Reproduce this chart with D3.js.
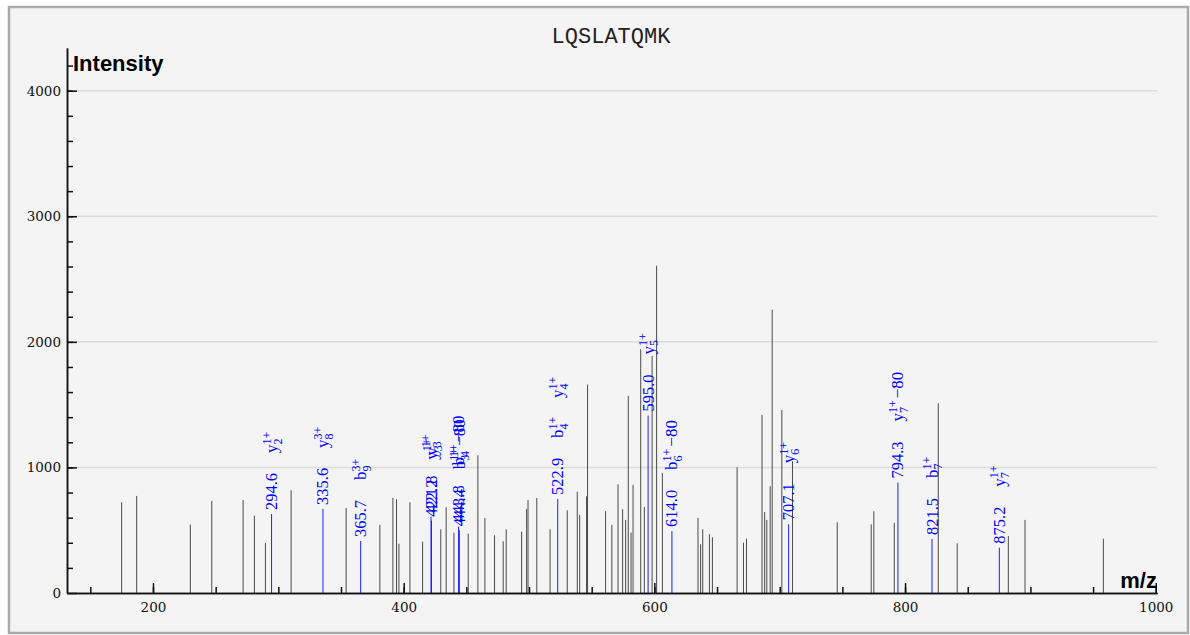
<!DOCTYPE html>
<html>
<head>
<meta charset="utf-8">
<script src="https://cdn.jsdelivr.net/npm/d3@7"></script>
<style>
  body { margin: 0; background: #fff; }
  .tick text { font-family: "DejaVu Serif", serif; font-size: 13.5px; fill: #111; }
  .num { font-family: "Liberation Serif", serif; font-size: 16.5px; fill: #0000ff; }
  .ion { font-family: "Liberation Serif", serif; font-size: 17px; fill: #0000ff; }
  .ionsm { font-family: "Liberation Serif", serif; font-size: 12px; fill: #0000ff; }
</style>
</head>
<body>
<svg id="chart" width="1190" height="635"></svg>
<script>
// spectrum title
var title = "LQSLATQMK";

// unannotated peaks (m/z, intensity)
var peakMz = [175.0, 187.0, 229.8, 246.9, 271.9, 280.9, 289.7, 310.2, 354.1, 381.0,
  391.4, 394.3, 396.2, 405.0, 415.1, 429.6, 433.9, 440.1, 451.5, 459.2,
  464.8, 472.5, 479.4, 481.8, 494.1, 498.1, 499.2, 506.2, 516.8, 530.5,
  538.5, 540.4, 545.9, 546.7, 561.1, 566.1, 571.0, 574.7, 577.1, 579.2,
  581.4, 583.0, 589.1, 592.0, 598.2, 601.8, 606.4, 634.8, 636.9, 638.6,
  643.9, 646.3, 666.0, 671.1, 673.5, 685.9, 688.0, 689.7, 692.4, 694.0,
  701.7, 710.2, 745.9, 773.0, 775.1, 791.4, 826.5, 841.6, 882.4, 895.7, 958.2];
var peakInt = [723, 773, 545, 733, 741, 616, 398, 818, 677, 542,
  757, 746, 393, 723, 409, 507, 683, 481, 472, 1097,
  598, 459, 412, 507, 489, 669, 741, 757, 507, 659,
  807, 622, 770, 1660, 651, 542, 866, 667, 582, 1570,
  481, 861, 1942, 685, 1888, 2606, 956, 598, 388, 507,
  468, 444, 1002, 401, 433, 1418, 645, 582, 850, 2255,
  1458, 1050, 563, 547, 651, 558, 1512, 396, 454, 582, 433];

// annotated peaks
var ionMz = [294.6, 335.6, 365.7, 421.8, 422.2, 443.8, 444.4, 522.9, 595.0, 614.0, 707.1, 794.3, 821.5, 875.2];
var ionInt = [629, 669, 414, 608, 576, 530, 500, 749, 1413, 494, 547, 879, 430, 361];
var ionText = ["294.6", "335.6", "365.7", "421.8", "422.2", "443.8", "444.4", "522.9", "595.0", "614.0", "707.1", "794.3", "821.5", "875.2"];
// ion names: [series, index, charge, loss]
var ionNames = [
  [["y", "2", "1+", ""]],
  [["y", "8", "3+", ""]],
  [["b", "9", "3+", ""]],
  [["y", "3", "1+", ""]],
  [["y", "3", "1+", ""]],
  [["b", "4", "1+", "\u221280"]],
  [["b", "3", "1+", "\u221280"]],
  [["b", "4", "1+", ""], ["y", "4", "1+", ""]],
  [["y", "5", "1+", ""]],
  [["b", "6", "1+", "\u221280"]],
  [["y", "6", "1+", ""]],
  [["y", "7", "1+", "\u221280"]],
  [["b", "7", "1+", ""]],
  [["y", "7", "1+", ""]]
];

var yMajor = [0, 1000, 2000, 3000, 4000];
var xMajor = [200, 400, 600, 800, 1000];

var svg = d3.select('#chart');
svg.append('rect').attr('x', 9).attr('y', 7).attr('width', 1179).attr('height', 626)
  .attr('fill', '#f4f4f4').attr('stroke', '#aaa').attr('stroke-width', 2.5);

var x = d3.scaleLinear().domain([131.4, 1001.0]).range([67, 1157]);
var y = d3.scaleLinear().domain([0, 4340]).range([593, 48]);

// grid
svg.append('g').selectAll('line').data(yMajor.slice(1)).enter().append('line')
  .attr('x1', 67).attr('x2', 1157)
  .attr('y1', function(d){ return y(d); }).attr('y2', function(d){ return y(d); })
  .attr('stroke', '#dcdcdc').attr('stroke-width', 1.5);

// peaks
svg.append('g').selectAll('line').data(peakMz).enter().append('line')
  .attr('x1', function(d){ return x(d); }).attr('x2', function(d){ return x(d); })
  .attr('y1', y(0)).attr('y2', function(d, i){ return y(peakInt[i]); })
  .attr('stroke', '#4a4a4a').attr('stroke-width', 1);

svg.append('g').selectAll('line').data(ionMz).enter().append('line')
  .attr('x1', function(d){ return x(d); }).attr('x2', function(d){ return x(d); })
  .attr('y1', y(0)).attr('y2', function(d, i){ return y(ionInt[i]); })
  .attr('stroke', '#1f1fff').attr('stroke-width', 1);

// labels
var labs = svg.append('g');
ionMz.forEach(function(mz, i){
  var px = x(mz), top = y(ionInt[i]);
  labs.append('text').attr('class', 'num')
    .attr('transform', 'translate(' + px + ',' + (top - 4) + ') rotate(-90)')
    .attr('y', 5.5).text(ionText[i]);
  ionNames[i].forEach(function(n, k){
    var g = labs.append('g')
      .attr('transform', 'translate(' + px + ',' + (top - 61 - k * 40) + ') rotate(-90)');
    var base = g.append('text').attr('class', 'ion').attr('y', 5.5).text(n[0]);
    var w = base.node().getComputedTextLength();
    var sup = g.append('text').attr('class', 'ionsm').attr('x', w).attr('y', -1).text(n[2]);
    var sub = g.append('text').attr('class', 'ionsm').attr('x', w).attr('y', 10).text(n[1]);
    var w2 = w + Math.max(sup.node().getComputedTextLength(), sub.node().getComputedTextLength());
    if (n[3]) g.append('text').attr('class', 'ion').attr('x', w2 + 2).attr('y', 5.5).text(n[3]);
  });
});

// axes
svg.append('g').attr('transform', 'translate(67,0)')
  .call(d3.axisLeft(y).tickValues(yMajor).tickSizeInner(-10).tickSizeOuter(0).tickPadding(6).tickFormat(d3.format('d')));
svg.append('g').attr('transform', 'translate(67,0)')
  .call(d3.axisLeft(y).tickValues(d3.range(200, 4340, 200)).tickSizeInner(-6).tickSizeOuter(0).tickFormat(''));
svg.append('g').attr('transform', 'translate(0,593)')
  .call(d3.axisBottom(x).tickValues(xMajor).tickSizeInner(-10).tickSizeOuter(0).tickPadding(9).tickFormat(d3.format('d')));
svg.append('g').attr('transform', 'translate(0,593)')
  .call(d3.axisBottom(x).tickValues(d3.range(150, 1001, 50)).tickSizeInner(-6).tickSizeOuter(0).tickFormat(''));
svg.selectAll('.domain, .tick line').attr('stroke', '#111').attr('stroke-width', 1.5);

svg.append('text').attr('x', 73).attr('y', 71).text('Intensity')
  .style('font-family', '"Liberation Sans", Arial, sans-serif').style('font-weight', 'bold').style('font-size', '22px');
svg.append('text').attr('x', 1157).attr('y', 588).attr('text-anchor', 'end').text('m/z')
  .style('font-family', '"Liberation Sans", Arial, sans-serif').style('font-weight', 'bold').style('font-size', '22px');
svg.append('text').attr('x', 611).attr('y', 43).attr('text-anchor', 'middle').text(title)
  .style('font-family', '"Liberation Mono", "Courier New", monospace').style('font-size', '22px').style('fill', '#222');
</script>
</body>
</html>
